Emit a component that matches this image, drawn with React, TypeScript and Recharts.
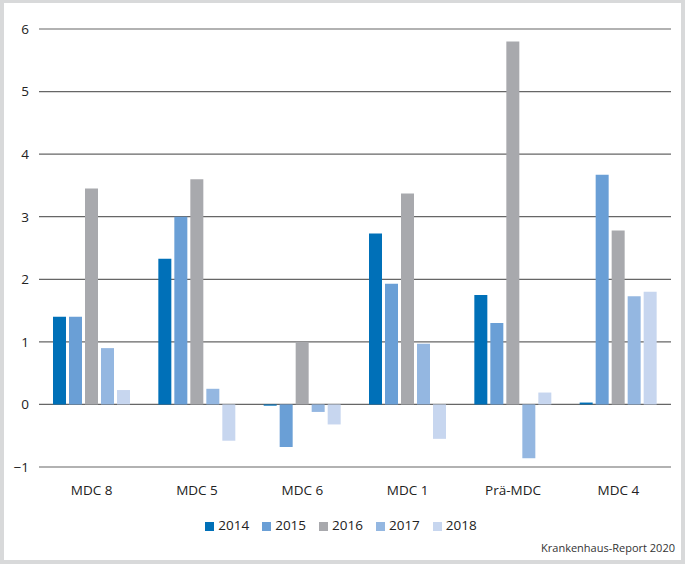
import { BarChart, Bar, XAxis, YAxis, CartesianGrid, Legend } from 'recharts';

const categories = ['MDC 8', 'MDC 5', 'MDC 6', 'MDC 1', 'Prä-MDC', 'MDC 4'];
const years = ['2014', '2015', '2016', '2017', '2018'];

const values2014 = [1.4, 2.33, -0.02, 2.73, 1.75, 0.03];
const values2015 = [1.4, 3.0, -0.68, 1.93, 1.3, 3.67];
const values2016 = [3.45, 3.6, 1.0, 3.37, 5.8, 2.78];
const values2017 = [0.9, 0.25, -0.12, 0.97, -0.86, 1.73];
const values2018 = [0.23, -0.58, -0.32, -0.55, 0.19, 1.8];

const yTicks = [-1, 0, 1, 2, 3, 4, 5, 6];

const COLORS = ['#0070b8', '#6a9fd6', '#a8a9ad', '#94b7e1', '#c7d6ef'];

const series = [values2014, values2015, values2016, values2017, values2018];

const data = categories.map((name, i) => {
  const row: Record<string, string | number> = { name };
  years.forEach((y, k) => {
    row[y] = series[k][i];
  });
  return row;
});

const FONT = '"Open Sans", "Noto Sans", sans-serif';

const fmtTick = (v: number) => (v < 0 ? `\u2212${Math.abs(v)}` : `${v}`);

export default function App() {
  return (
    <div
      style={{
        position: 'absolute',
        left: 0,
        top: 0,
        width: 685,
        height: 564,
        background: '#d8d9da',
        fontFamily: FONT,
      }}
    >
      <div
        style={{
          position: 'absolute',
          left: 4,
          top: 3,
          right: 4,
          bottom: 4,
          background: '#ffffff',
        }}
      />
      <div style={{ position: 'absolute', left: 0, top: 0 }}>
        <BarChart
          width={685}
          height={564}
          data={data}
          margin={{ top: 29, right: 14, left: 0, bottom: 49 }}
          barGap={3}
          barCategoryGap={14}
        >
          <CartesianGrid vertical={false} stroke="#666666" strokeWidth={1.2} />
          <XAxis
            dataKey="name"
            axisLine={false}
            tickLine={false}
            tickMargin={12}
            tick={{ fill: '#222', fontSize: 13.5, fontFamily: FONT }}
          />
          <YAxis
            width={39}
            domain={[-1, 6]}
            ticks={yTicks}
            axisLine={false}
            tickLine={false}
            tickMargin={4}
            tickFormatter={fmtTick}
            tick={{ fill: '#222', fontSize: 13.5, fontFamily: FONT }}
          />
          <Legend
            verticalAlign="bottom"
            iconType="square"
            iconSize={9}
            wrapperStyle={{ fontSize: 13.5, fontFamily: FONT, bottom: 30, paddingLeft: 12 }}
            formatter={(value: string) => (
              <span style={{ color: '#222', marginRight: 3 }}>{value}</span>
            )}
          />
          {years.map((y, k) => (
            <Bar key={y} dataKey={y} fill={COLORS[k]} isAnimationActive={false} />
          ))}
        </BarChart>
      </div>
      <div
        style={{
          position: 'absolute',
          right: 10,
          top: 540,
          fontSize: 11,
          color: '#333',
          fontFamily: FONT,
        }}
      >
        Krankenhaus-Report 2020
      </div>
    </div>
  );
}
